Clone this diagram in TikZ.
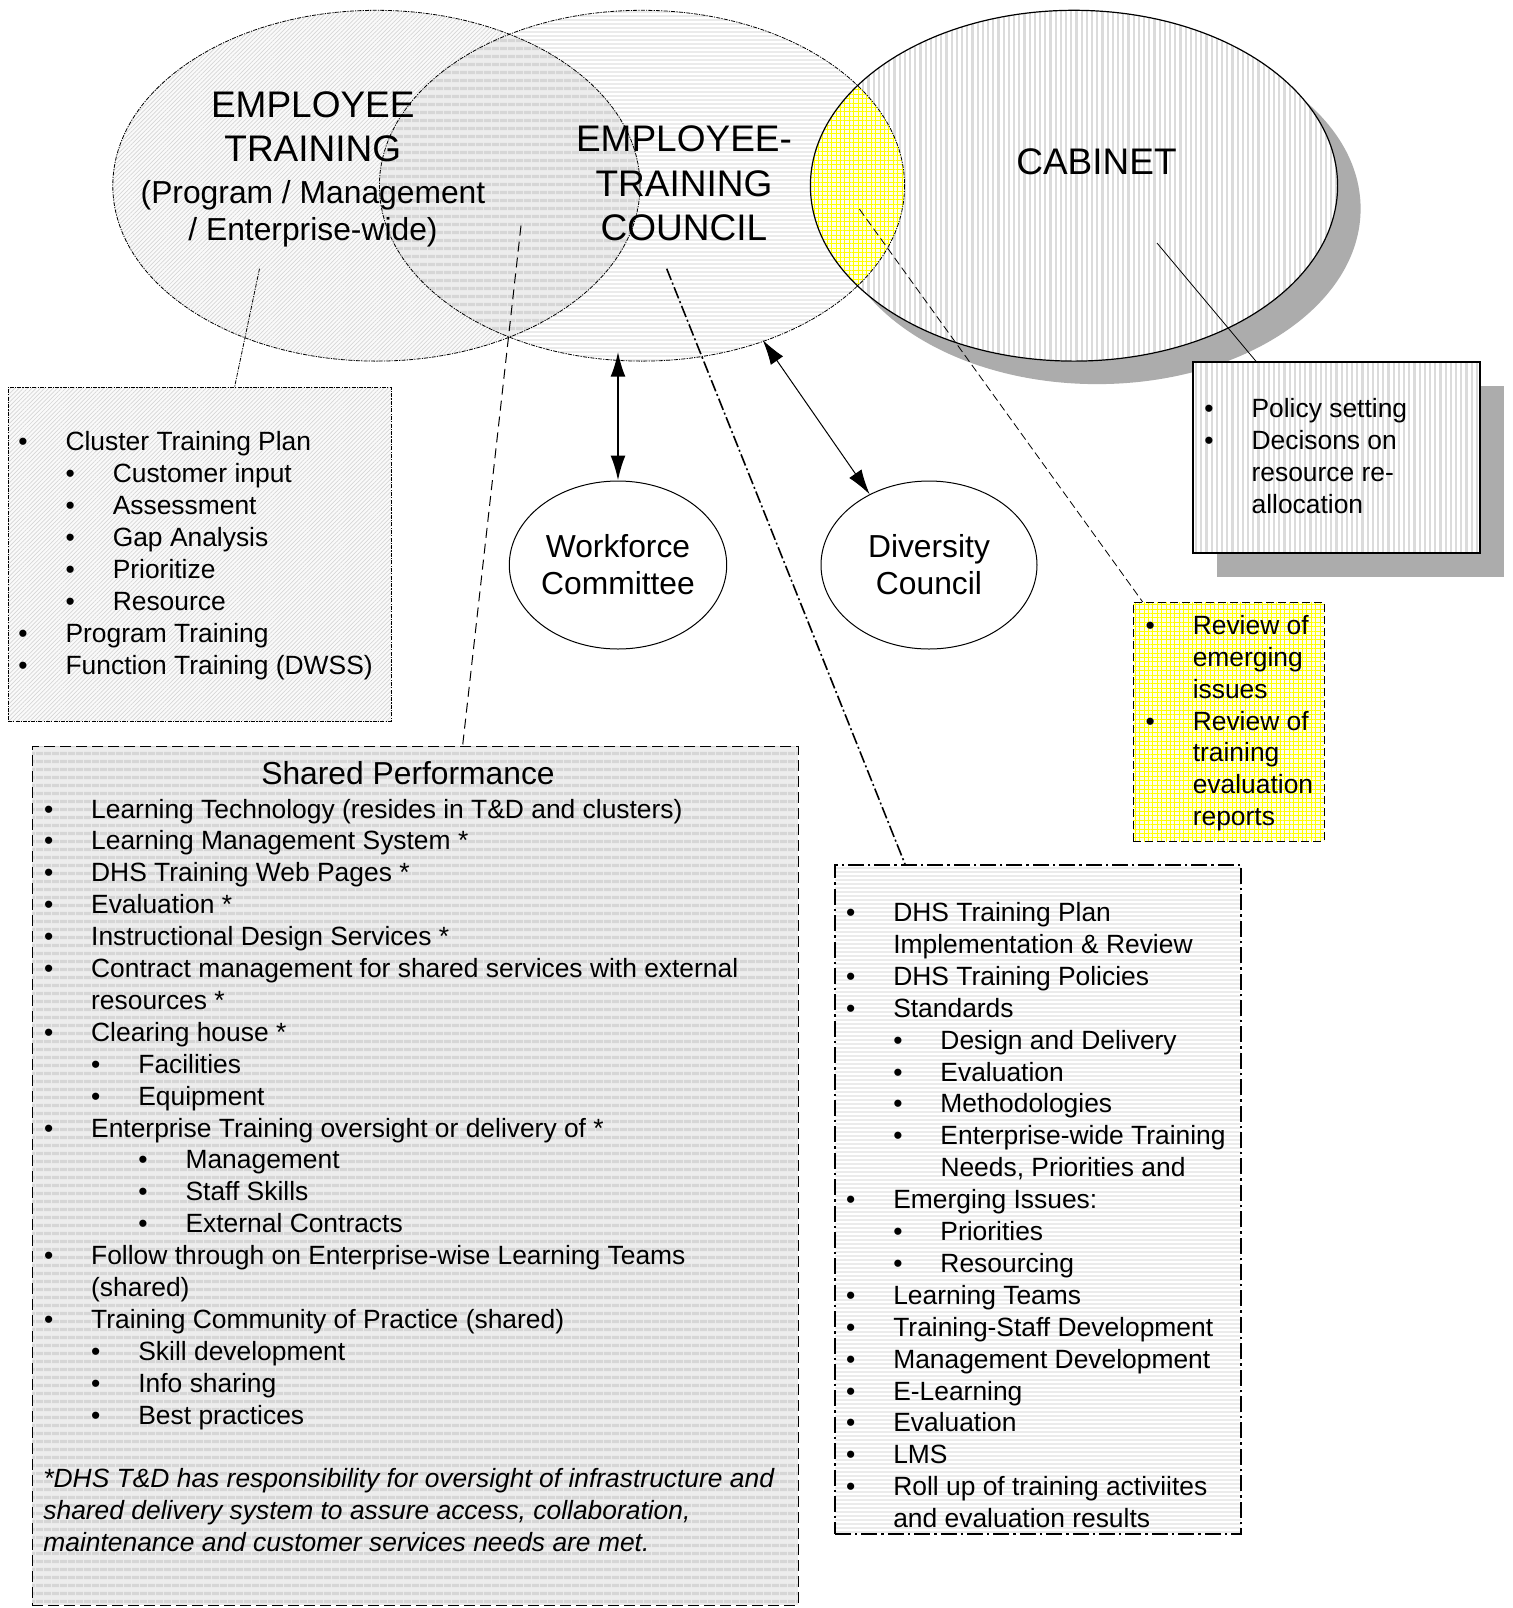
\documentclass[tikz,border=0pt]{standalone}
\usepackage{fontspec}
\setmainfont{Liberation Sans}
\usetikzlibrary{shapes.geometric,arrows.meta,patterns.meta,shadows}
\newlength{\bstep}\setlength{\bstep}{23.6pt}
\newcommand{\lbul}{\makebox[\bstep][l]{\textbullet}}
\newcommand{\lind}{\hspace*{\bstep}}
\newcommand{\bodyfont}{\fontsize{13.2}{15.95}\selectfont}
\begin{document}
\begin{tikzpicture}[x=0.5pt,y=-0.5pt]
        \tikzstyle{venn}=[ellipse,inner sep=0pt,outer sep=0pt]
        \tikzstyle{box}=[rectangle,inner sep=0pt,outer sep=0pt,anchor=north west]
        \tikzstyle{list}=[anchor=north west,inner sep=0pt,align=left,font=\bodyfont]
        \tikzstyle{hatchfill}=[preaction={fill=gray!4},pattern={Lines[angle=45,distance=1.5pt,line width=0.35pt]},pattern color=gray!32]
        \tikzstyle{hlinefill}=[preaction={fill=white},pattern={Lines[angle=0,distance=2pt,line width=0.9pt]},pattern color=gray!16]
        \tikzstyle{bandfill}=[preaction={fill=gray!14},pattern={Lines[angle=0,distance=4pt,line width=1.8pt]},pattern color=gray!32]
        \tikzstyle{vlinefill}=[preaction={fill=white},pattern={Lines[angle=90,distance=2.6pt,line width=1.1pt]},pattern color=gray!28]
        \tikzstyle{gridfill}=[preaction={fill=yellow!8},pattern={Hatch[distance=2.2pt,line width=0.5pt]},pattern color=yellow]
        \tikzstyle{boxshadow}=[general shadow={fill=gray!65,shadow xshift=12pt,shadow yshift=-12pt}]
        \tikzstyle{finedash}=[line width=0.4pt,dash pattern=on 2pt off 0.6pt on 0.6pt off 0.6pt]
        \tikzstyle{link}=[>={Latex[length=12.5pt,width=7.5pt]},<->]

        \fill[white] (0,0) rectangle (1512,1608);
        \useasboundingbox (0,0) rectangle (1512,1608);

        % the three circles
        \node [venn,hatchfill,minimum width=263.6pt,minimum height=175.4pt] (train) at (376.4,185.7) {};
        \node [venn,hlinefill,minimum width=262.6pt,minimum height=175.4pt] (council) at (642,185.7) {};
        \node [venn,general shadow={fill=gray!65,shadow xshift=11.5pt,shadow yshift=-11.5pt},vlinefill,minimum width=263.6pt,minimum height=175.4pt] (cabinet) at (1074,185.7) {};
        \begin{scope}
          \clip (train.center) ellipse [x radius=263.6,y radius=175.4];
          \path[bandfill] (council.center) ellipse [x radius=262.6,y radius=175.4];
        \end{scope}
        \begin{scope}
          \clip (cabinet.center) ellipse [x radius=263.6,y radius=175.4];
          \path[gridfill] (council.center) ellipse [x radius=262.6,y radius=175.4];
        \end{scope}
        \draw[finedash] (train.center) ellipse [x radius=263.6,y radius=175.4];
        \draw[finedash] (council.center) ellipse [x radius=262.6,y radius=175.4];
        \draw[line width=0.6pt] (cabinet.center) ellipse [x radius=263.6,y radius=175.4];

        \node [font=\fontsize{18.5}{22}\selectfont,align=center] (train-t) at (312.8,126.7) {EMPLOYEE\\TRAINING};
        \node [font=\fontsize{15.9}{18.45}\selectfont,align=center] (train-s) at (313,213.4) {(Program / Management\\/ Enterprise-wide)};
        \node [font=\fontsize{18.5}{22.3}\selectfont,align=center] (council-t) at (684,183.6) {EMPLOYEE-\\TRAINING\\COUNCIL};
        \node [font=\fontsize{18.5}{22}\selectfont] (cabinet-t) at (1096.5,162) {CABINET};

        \node [ellipse,draw,line width=0.5pt,inner sep=0pt,minimum width=108pt,minimum height=84pt,font=\fontsize{15.9}{18.5}\selectfont,align=center] (workforce) at (618,565) {Workforce\\Committee};
        \node [ellipse,draw,line width=0.5pt,inner sep=0pt,minimum width=108pt,minimum height=84pt,font=\fontsize{15.9}{18.5}\selectfont,align=center] (diversity) at (929,565) {Diversity\\Council};

        % boxes
        \node [box,hatchfill,draw,finedash,minimum width=191.5pt,minimum height=167pt] (cluster) at (8,387) {};
        \node [box,bandfill,draw,line width=0.5pt,dash pattern=on 5.5pt off 2.5pt,minimum width=383pt,minimum height=429.5pt] (shared) at (32,746) {};
        \node [box,hlinefill,draw,line width=0.9pt,dash pattern=on 8pt off 2pt on 1.2pt off 2pt,minimum width=203pt,minimum height=334.5pt] (duties) at (835,865) {};
        \node [box,boxshadow,vlinefill,draw,line width=0.6pt,minimum width=143.5pt,minimum height=95.5pt] (policy) at (1193,362) {};
        \node [box,gridfill,draw,line width=0.5pt,dash pattern=on 4pt off 2pt,minimum width=95.5pt,minimum height=119.5pt] (review) at (1133,602) {};

        \node [list] (cluster-l) at (18,431.2) {\lbul Cluster Training Plan\\
          \lind\lbul Customer input\\
          \lind\lbul Assessment\\
          \lind\lbul Gap Analysis\\
          \lind\lbul Prioritize\\
          \lind\lbul Resource\\
          \lbul Program Training\\
          \lbul Function Training (DWSS)};

        \node [font=\fontsize{15.9}{18}\selectfont] (shared-h) at (408,773.4) {Shared Performance};
        \node [list] (shared-l) at (43.6,798.5) {\lbul Learning Technology (resides in T\&D and clusters)\\
          \lbul Learning Management System *\\
          \lbul DHS Training Web Pages *\\
          \lbul Evaluation *\\
          \lbul Instructional Design Services *\\
          \lbul Contract management for shared services with external\\
          \lind resources *\\
          \lbul Clearing house *\\
          \lind\lbul Facilities\\
          \lind\lbul Equipment\\
          \lbul Enterprise Training oversight or delivery of *\\
          \lind\lind\lbul Management\\
          \lind\lind\lbul Staff Skills\\
          \lind\lind\lbul External Contracts\\
          \lbul Follow through on Enterprise-wise Learning Teams\\
          \lind (shared)\\
          \lbul Training Community of Practice (shared)\\
          \lind\lbul Skill development\\
          \lind\lbul Info sharing\\
          \lind\lbul Best practices};
        \node [list,font=\bodyfont\itshape] (shared-n) at (43,1468.2) {*DHS T\&D has responsibility for oversight of infrastructure and\\
          shared delivery system to assure access, collaboration,\\
          maintenance and customer services needs are met.};

        \node [list] (duties-l) at (845.7,902) {\lbul DHS Training Plan\\
          \lind Implementation \& Review\\
          \lbul DHS Training Policies\\
          \lbul Standards\\
          \lind\lbul Design and Delivery\\
          \lind\lbul Evaluation\\
          \lind\lbul Methodologies\\
          \lind\lbul Enterprise-wide Training\\
          \lind\lind Needs, Priorities and\\
          \lbul Emerging Issues:\\
          \lind\lbul Priorities\\
          \lind\lbul Resourcing\\
          \lbul Learning Teams\\
          \lbul Training-Staff Development\\
          \lbul Management Development\\
          \lbul E-Learning\\
          \lbul Evaluation\\
          \lbul LMS\\
          \lbul Roll up of training activiites\\
          \lind and evaluation results};

        \node [list] (policy-l) at (1204,398.4) {\lbul Policy setting\\
          \lbul Decisons on\\
          \lind resource re-\\
          \lind allocation};

        \node [list] (review-l) at (1145.2,614.8) {\lbul Review of\\
          \lind emerging\\
          \lind issues\\
          \lbul Review of\\
          \lind training\\
          \lind evaluation\\
          \lind reports};

        % leader lines and arrows
        \coordinate (train-pin) at (259.5,268.7);
        \coordinate (lens-pin) at (521,225.7);
        \coordinate (council-pin) at (666.7,268.7);
        \coordinate (overlap-pin) at (859.5,209.2);
        \coordinate (cabinet-pin) at (1157,243);
        \coordinate (council-foot) at (618,351.7);
        \coordinate (council-rim) at (762.7,340);

        \draw[finedash] (train-pin) -- (cluster);
        \draw[line width=0.5pt,dash pattern=on 5pt off 3pt] (lens-pin) -- (shared);
        \draw[line width=0.8pt,dash pattern=on 6pt off 1.5pt on 1pt off 1.5pt] (council-pin) -- (duties);
        \draw[line width=0.4pt,dash pattern=on 4pt off 2pt] (overlap-pin) -- (review);
        \draw[line width=0.4pt] (cabinet-pin) -- (policy);
        \draw[link,line width=1pt] (council-foot) -- (workforce);
        \draw[link,line width=0.5pt] (council-rim) -- (diversity.130);
\end{tikzpicture}
\end{document}
